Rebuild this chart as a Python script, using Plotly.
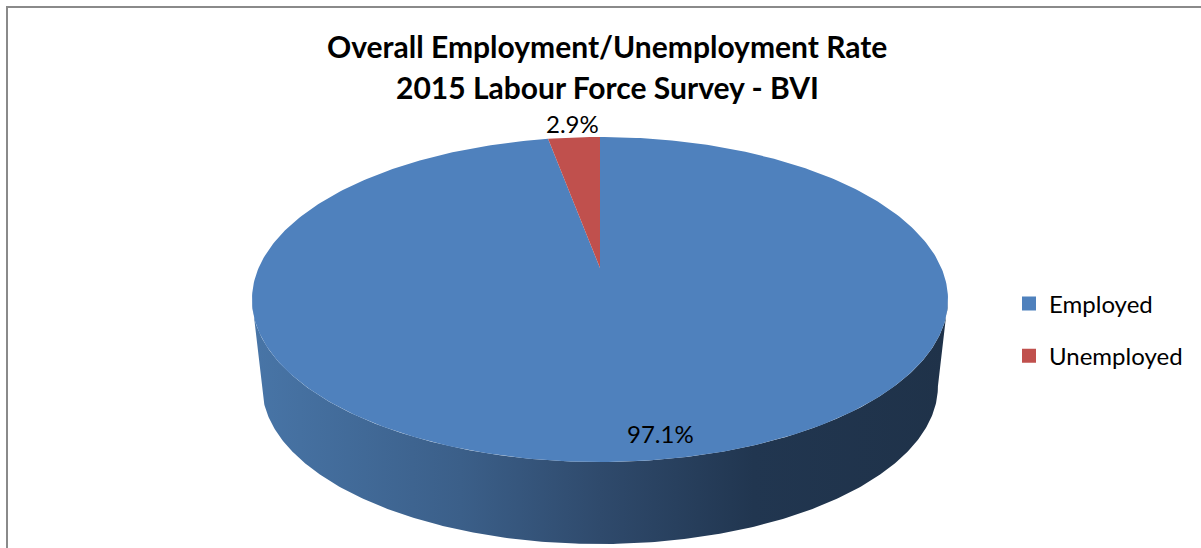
import numpy as np
import plotly.graph_objects as go

# Chart data
categories = ["Employed", "Unemployed"]
shares = [97.1, 2.9]
slice_colors = ["#4F81BD", "#C0504D"]
title_lines = ["Overall Employment/Unemployment Rate", "2015 Labour Force Survey - BVI"]

W, H = 1201, 548

# Perspective disc geometry (pixel space)
CX, CY = 600.0, 268.0          # centre of the top face
A, B, P = 341.4, 156.4, 0.194  # half-width, half-depth, perspective factor
BOT_CY, BOT_S = 355.6, 0.971   # bottom face centre and scale


def project(phi, cy=CY, s=1.0):
    """Map pie angle (clockwise from 12 o'clock) to screen coords."""
    u = np.sin(phi)
    v = np.cos(phi)
    d = 1.0 + P * v
    return CX + s * A * u / d, cy - s * B * v / d


fig = go.Figure()

# Visible rim of the disc: front half between the two silhouettes
a0 = np.arccos(-P)
rim = np.linspace(a0, 2 * np.pi - a0, 300)
tx, ty = project(rim)
bx, by = project(rim[::-1], BOT_CY, BOT_S)
fig.add_trace(go.Scatter(
    x=np.concatenate([tx, bx]), y=np.concatenate([ty, by]),
    mode="lines", fill="toself", line=dict(width=0),
    fillgradient=dict(type="horizontal", colorscale=[
        [0.0, "#4875A7"], [0.3, "#3B5F89"], [0.5, "#2F4A6C"],
        [0.72, "#213650"], [1.0, "#1F3249"]]),
    hoverinfo="skip", showlegend=False))

# Top face slices, starting at 12 o'clock and running clockwise
total = sum(shares)
start = 0.0
for name, val, col in zip(categories, shares, slice_colors):
    span = 2 * np.pi * val / total
    ang = np.linspace(start, start + span, max(int(400 * val / total), 8))
    ax_, ay_ = project(ang)
    fig.add_trace(go.Scatter(
        x=np.concatenate([[CX], ax_, [CX]]),
        y=np.concatenate([[CY], ay_, [CY]]),
        mode="lines", fill="toself", fillcolor=col, line=dict(width=0),
        hoverinfo="text", text=f"{name}: {val}%", showlegend=False))
    start += span

# Legend entries
for i, (name, col) in enumerate(zip(categories, slice_colors)):
    fig.add_trace(go.Scatter(
        x=[None], y=[None], mode="markers", name=name, legendgroup=f"g{i}",
        marker=dict(symbol="square", size=14, color=col)))

# Data labels
label_pos = [(660, 433), (572, 123)]
for val, (lx, ly) in zip(shares, label_pos):
    fig.add_annotation(x=lx, y=ly, text=f"{val}%", showarrow=False,
                       xref="x", yref="y",
                       font=dict(family="Lato", size=24, color="#000000"))

# Title
for line, ty_ in zip(title_lines, [46, 87]):
    fig.add_annotation(x=607, y=ty_, text=f"<b>{line}</b>", showarrow=False,
                       xref="x", yref="y",
                       font=dict(family="Lato", size=30, color="#000000"))

# Chart frame
fig.add_shape(type="rect", x0=7, y0=7, x1=W + 20, y1=H + 20,
              xref="x", yref="y", line=dict(color="#8A8A8A", width=2),
              fillcolor="rgba(0,0,0,0)", layer="above")

fig.update_layout(
    width=W, height=H,
    margin=dict(l=0, r=0, t=0, b=0),
    paper_bgcolor="white", plot_bgcolor="white",
    xaxis=dict(range=[0, W], visible=False, fixedrange=True),
    yaxis=dict(range=[H, 0], visible=False, fixedrange=True),
    legend=dict(x=1009 / W, y=1 - 330 / H, xanchor="left", yanchor="middle",
                font=dict(family="Lato", size=24, color="#000000"),
                tracegroupgap=18, bgcolor="rgba(0,0,0,0)"),
    showlegend=True,
)

fig.write_html("out.html")
